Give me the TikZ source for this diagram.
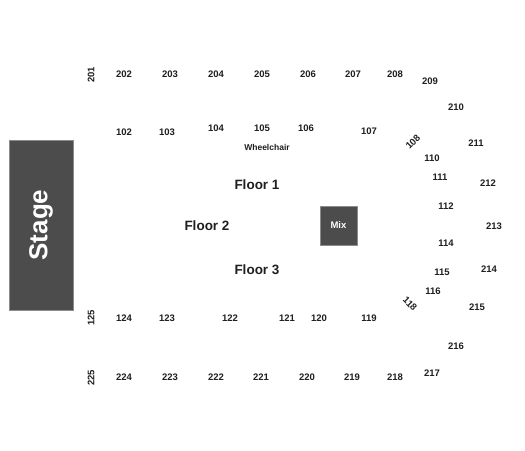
\documentclass[tikz,border=0pt]{standalone}
\usepackage{fontspec}
\setmainfont{Liberation Sans}
\begin{document}
\begin{tikzpicture}[x=1pt,y=-1pt,
  sec/.style={font=\fontsize{9.5}{10}\selectfont\bfseries, text=black!88, inner sep=0pt},
  flr/.style={font=\fontsize{13.5}{14}\selectfont\bfseries, text=black!88, inner sep=0pt},
  block/.style={fill=black!70, draw=black!45, line width=0.6pt}]
\useasboundingbox (0,0) rectangle (525,450);
\fill[white] (0,0) rectangle (525,450);
% stage and mix
\node[block, minimum width=64pt, minimum height=170pt, inner sep=0pt] (stage) at (41,225) {};
\node[font=\fontsize{26}{26}\selectfont\bfseries, text=white, rotate=90] (stagetxt) at (stage.center) {Stage};
\node[block, minimum width=37pt, minimum height=39pt, inner sep=0pt,
  font=\fontsize{9.5}{10}\selectfont\bfseries, text=white] (mix) at (338.5,225.5) {Mix};
% floors
\node[flr] (f1) at (257,185) {Floor 1};
\node[flr] (f2) at (207,226) {Floor 2};
\node[flr] (f3) at (257,270) {Floor 3};
\node[font=\fontsize{8.5}{9}\selectfont\bfseries, text=black!88, inner sep=0pt] (wc) at (267,147) {Wheelchair};
% upper row 200s
\node[sec, rotate=90] (s201) at (91,75) {201};
\node[sec] (s202) at (124,74) {202};
\node[sec] (s203) at (170,74) {203};
\node[sec] (s204) at (216,74) {204};
\node[sec] (s205) at (262,74) {205};
\node[sec] (s206) at (308,74) {206};
\node[sec] (s207) at (353,74) {207};
\node[sec] (s208) at (395,74) {208};
\node[sec] (s209) at (430,81) {209};
\node[sec] (s210) at (456,107) {210};
\node[sec] (s211) at (476,143) {211};
\node[sec] (s212) at (488,183) {212};
\node[sec] (s213) at (494,226) {213};
\node[sec] (s214) at (489,269) {214};
\node[sec] (s215) at (477,307) {215};
\node[sec] (s216) at (456,346) {216};
\node[sec] (s217) at (432,373) {217};
\node[sec] (s218) at (395,377) {218};
\node[sec] (s219) at (352,377) {219};
\node[sec] (s220) at (307,377) {220};
\node[sec] (s221) at (261,377) {221};
\node[sec] (s222) at (216,377) {222};
\node[sec] (s223) at (170,377) {223};
\node[sec] (s224) at (124,377) {224};
\node[sec, rotate=90] (s225) at (91,378) {225};
% 100s
\node[sec] (s102) at (124,132) {102};
\node[sec] (s103) at (167,132) {103};
\node[sec] (s104) at (216,128) {104};
\node[sec] (s105) at (262,128) {105};
\node[sec] (s106) at (306,128) {106};
\node[sec] (s107) at (369,131) {107};
\node[sec, rotate=45] (s108) at (413,142) {108};
\node[sec] (s110) at (432,158) {110};
\node[sec] (s111) at (440,177) {111};
\node[sec] (s112) at (446,206) {112};
\node[sec] (s114) at (446,243) {114};
\node[sec] (s115) at (442,272) {115};
\node[sec] (s116) at (433,291) {116};
\node[sec, rotate=-45] (s118) at (410,304) {118};
\node[sec] (s119) at (369,318) {119};
\node[sec] (s120) at (319,318) {120};
\node[sec] (s121) at (287,318) {121};
\node[sec] (s122) at (230,318) {122};
\node[sec] (s123) at (167,318) {123};
\node[sec] (s124) at (124,318) {124};
\node[sec, rotate=90] (s125) at (91,318) {125};
\end{tikzpicture}
\end{document}
